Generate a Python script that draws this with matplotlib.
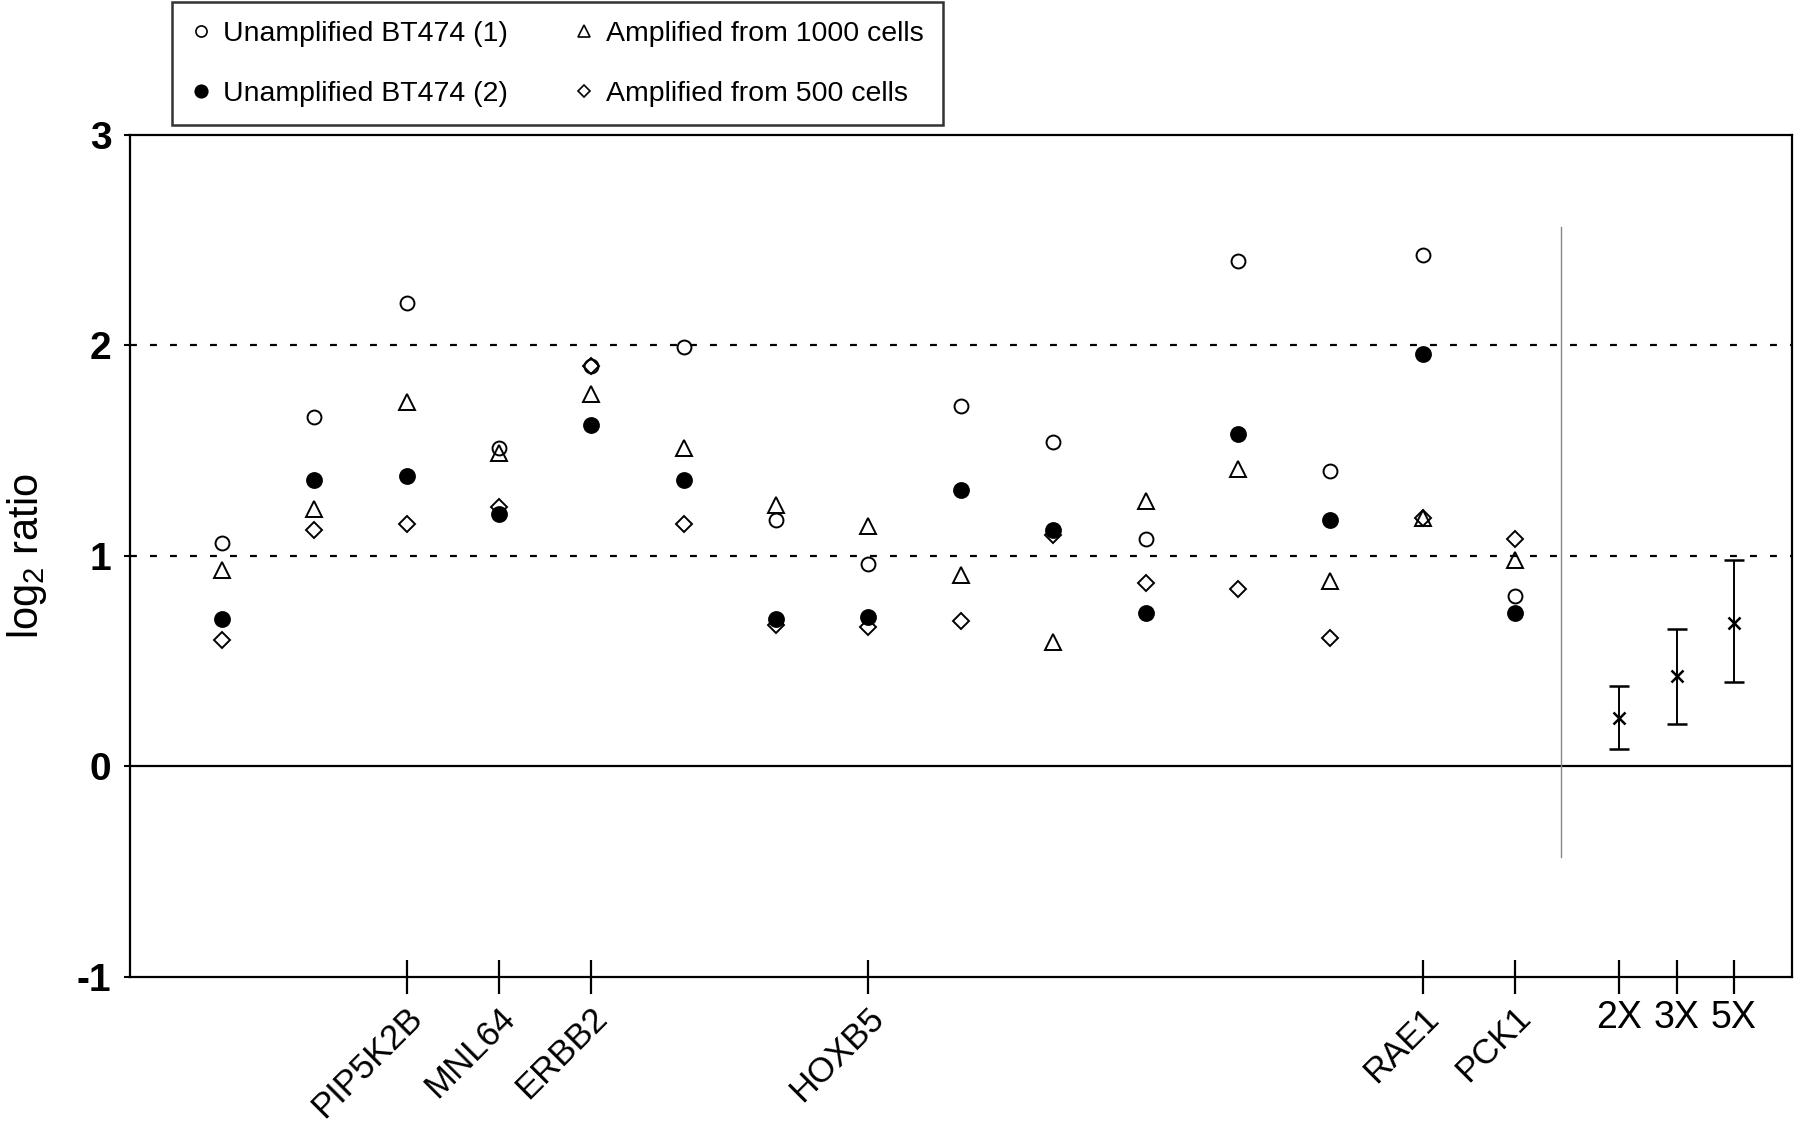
import matplotlib
matplotlib.use("Agg")
import matplotlib.pyplot as plt
from matplotlib.lines import Line2D
from matplotlib.transforms import offset_copy

plt.rcParams['font.family'] = ['Liberation Sans', 'DejaVu Sans']
plt.rcParams['mathtext.fontset'] = 'custom'
plt.rcParams['mathtext.rm'] = 'Liberation Sans'
plt.rcParams['mathtext.it'] = 'Liberation Sans'
plt.rcParams['mathtext.default'] = 'regular'

# ---- data ----
columns = list(range(1, 16))
unamp1 = [1.06, 1.66, 2.20, 1.51, 1.90, 1.99, 1.17, 0.96, 1.71, 1.54, 1.08, 2.40, 1.40, 2.43, 0.81]
unamp2 = [0.70, 1.36, 1.38, 1.20, 1.62, 1.36, 0.70, 0.71, 1.31, 1.12, 0.73, 1.58, 1.17, 1.96, 0.73]
amp1000 = [0.93, 1.22, 1.73, 1.49, 1.77, 1.51, 1.24, 1.14, 0.91, 0.59, 1.26, 1.41, 0.88, 1.18, 0.98]
amp500 = [0.60, 1.12, 1.15, 1.23, 1.90, 1.15, 0.67, 0.66, 0.69, 1.10, 0.87, 0.84, 0.61, 1.18, 1.08]

gene_labels = ['PIP5K2B', 'MNL64', 'ERBB2', 'HOXB5', 'RAE1', 'PCK1']
gene_cols = [3, 4, 5, 8, 14, 15]

std_labels = ['2X', '3X', '5X']
std_pos = [16.13, 16.75, 17.37]
std_mean = [0.23, 0.43, 0.68]
std_low = [0.08, 0.20, 0.40]
std_high = [0.38, 0.65, 0.98]

series_labels = ['Unamplified BT474 (1)', 'Unamplified BT474 (2)',
                 'Amplified from 1000 cells', 'Amplified from 500 cells']

# ---- figure ----
fig = plt.figure(figsize=(18, 11.21), dpi=100)
ax = fig.add_axes([0.072, 0.1285, 0.9236, 0.7515])

ax.set_xlim(0, 18)
ax.set_ylim(-1, 3)

dash = (0, (3.1, 5.9))
ax.axhline(1, color='black', lw=1.6, ls=dash, zorder=1)
ax.axhline(2, color='black', lw=1.6, ls=dash, zorder=1)
ax.axhline(0, color='black', lw=1.6, zorder=1)
ax.plot([15.5, 15.5], [-0.43, 2.56], color='#888888', lw=1.0, zorder=1)

ms = 10
mew = 1.4
ax.plot(columns, unamp1, ls='none', marker='o', ms=ms, mfc='none', mec='black', mew=mew, zorder=3)
ax.plot(columns, amp1000, ls='none', marker='^', ms=ms + 2, mfc='none', mec='black', mew=mew, zorder=3)
ax.plot(columns, amp500, ls='none', marker='D', ms=ms - 1.8, mfc='none', mec='black', mew=mew, zorder=3)
ax.plot(columns, unamp2, ls='none', marker='o', ms=ms + 0.7, mfc='black', mec='black', mew=mew, zorder=4)

yerr = [[m - lo for m, lo in zip(std_mean, std_low)], [hi - m for m, hi in zip(std_mean, std_high)]]
ax.errorbar(std_pos, std_mean, yerr=yerr, fmt='x', color='black', ms=8, mew=1.8,
            ecolor='black', elinewidth=1.4, capsize=7, capthick=1.4, zorder=3)

# ticks
ax.set_yticks([-1, 0, 1, 2, 3])
ax.set_yticklabels(['-1', '0', '1', '2', '3'], fontsize=28, fontweight='bold')
ax.tick_params(axis='y', direction='out', length=4, width=1.5, pad=9)

ax.set_xticks(gene_cols + std_pos)
ax.set_xticklabels([''] * len(gene_cols) + std_labels, fontsize=27)
ax.tick_params(axis='x', direction='inout', length=25, width=1.6, pad=4)

lbl_trans = offset_copy(ax.get_xaxis_transform(), fig=fig, x=-1, y=-24, units='dots')
for c, name in zip(gene_cols, gene_labels):
    ax.text(c, 0, name, transform=lbl_trans, rotation=45, ha='right', va='top',
            rotation_mode='anchor', fontsize=25)

for s in ax.spines.values():
    s.set_linewidth(1.6)
    s.set_color('black')

ax.set_ylabel('log$_2$ ratio', fontsize=30, labelpad=20)

# legend
handles = [
    Line2D([], [], ls='none', marker='o', ms=8, mfc='none', mec='black', mew=1.2),
    Line2D([], [], ls='none', marker='o', ms=9, mfc='black', mec='black', mew=1.2),
    Line2D([], [], ls='none', marker='^', ms=9, mfc='none', mec='black', mew=1.2),
    Line2D([], [], ls='none', marker='D', ms=6.5, mfc='none', mec='black', mew=1.2),
]
leg = fig.legend(handles, series_labels, loc='upper left', bbox_to_anchor=(0.0956, 0.998),
                 ncol=2, fontsize=20.5, frameon=True, fancybox=False, edgecolor='black',
                 handlelength=0.7, handletextpad=0.45, columnspacing=2.3,
                 labelspacing=1.2, borderpad=0.65, borderaxespad=0)
leg.get_frame().set_linewidth(1.8)

fig.savefig('out.png', dpi=100)
